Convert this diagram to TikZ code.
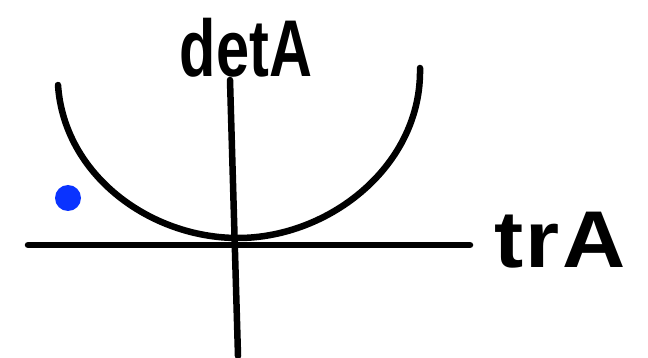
\documentclass[tikz,border=0pt]{standalone}
\usepackage{fontspec}
\setmainfont{Liberation Sans}
\definecolor{dotblue}{HTML}{0A33FF}
\tikzset{pen/.style={line width=6.5pt,line cap=round,line join=round,black},
 lbl/.style={inner sep=0pt,font=\bfseries\fontsize{70}{70}\selectfont}}
\begin{document}
\begin{tikzpicture}[x=1pt,y=-1pt]
\useasboundingbox (0,0) rectangle (648,358);
\coordinate (hl) at (28,245);
\coordinate (hr) at (470,245);
\coordinate (vt) at (230,80);
\coordinate (vb) at (238,356);
\coordinate (pl) at (58,85);
\coordinate (pm) at (238,238);
\coordinate (pr) at (420,68);
\draw[pen] (hl) -- (hr);
\draw[pen] (vt) -- (vb);
\draw[pen] (pl) .. controls (64,175) and (150,238) .. (pm) .. controls (330,238) and (422,165) .. (pr);
\node[circle,fill=dotblue,minimum size=26pt,inner sep=0pt] (dot) at (68,198) {};
\node[lbl,anchor=base,xscale=0.85,yscale=1.15] (det) at (246,77) {detA};
\node[lbl,anchor=base,xscale=1.25,yscale=1.15] (tr) at (560,268) {t\kern2pt r\kern2pt A};
\end{tikzpicture}
\end{document}
